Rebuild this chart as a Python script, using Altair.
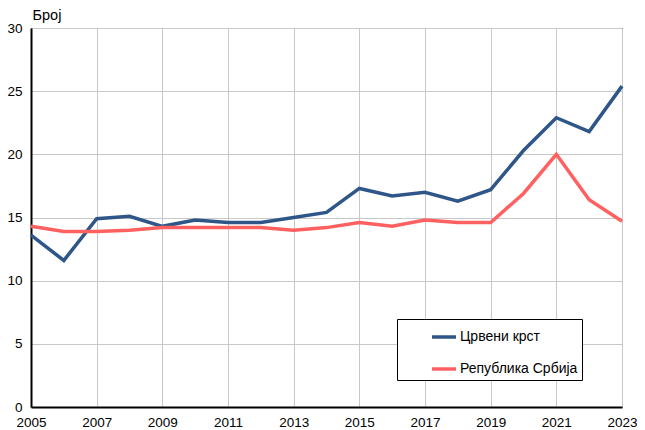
import altair as alt
import pandas as pd

years = list(range(2005, 2024))
crveni_krst = [13.6, 11.6, 14.9, 15.1, 14.3, 14.8, 14.6, 14.6, 15.0, 15.4,
               17.3, 16.7, 17.0, 16.3, 17.2, 20.3, 22.9, 21.8, 25.4]
republika = [14.3, 13.9, 13.9, 14.0, 14.2, 14.2, 14.2, 14.2, 14.0, 14.2,
             14.6, 14.3, 14.8, 14.6, 14.6, 16.9, 20.0, 16.4, 14.7]
series = ["Црвени крст", "Република Србија"]
colors = ["#2f5688", "#ff6060"]
x_ticks = list(range(2005, 2024, 2))
y_ticks = [0, 5, 10, 15, 20, 25, 30]

df = pd.DataFrame({
    "year": years * 2,
    "value": crveni_krst + republika,
    "series": [series[0]] * len(years) + [series[1]] * len(years),
})

FONT = "Liberation Sans"

chart = alt.Chart(df).mark_line(strokeWidth=3.5).encode(
    x=alt.X("year:Q",
            scale=alt.Scale(domain=[2005, 2023], nice=False, zero=False),
            axis=alt.Axis(values=x_ticks, format="d", title=None,
                          labelPadding=8, labelFlush=False)),
    y=alt.Y("value:Q",
            scale=alt.Scale(domain=[0, 30], nice=False),
            axis=alt.Axis(values=y_ticks, title="Број", titleAngle=0,
                          titleX=1, titleY=-9, titleAlign="left",
                          titleBaseline="alphabetic", titleFont=FONT,
                          titleFontSize=14.5, titleFontWeight="normal",
                          titleColor="black", labelPadding=9)),
    color=alt.Color("series:N",
                    scale=alt.Scale(domain=series, range=colors),
                    legend=alt.Legend(orient="none", legendX=366, legendY=291,
                                      direction="vertical", title=None,
                                      strokeColor="black", fillColor="white",
                                      padding=4, symbolType="stroke",
                                      symbolSize=576, symbolStrokeWidth=3.5,
                                      symbolOffset=29, labelOffset=2,
                                      rowPadding=11, labelFont=FONT,
                                      labelFontSize=14, labelColor="black",
                                      labelExpr="datum.label + '\u00a0\u00a0\u00a0\u00a0\u00a0\u00a0\u00a0'",
                                      cornerRadius=0)),
).properties(
    width=591,
    height=379,
    autosize=alt.AutoSizeParams(type="none"),
    padding={"left": 23, "top": 20, "right": 15, "bottom": 24},
).configure_axis(
    labelFont=FONT,
    labelFontSize=13.5,
    labelColor="black",
    ticks=False,
    domainColor="black",
    domainWidth=2,
    gridColor="#c8c8c8",
    gridWidth=1,
    gridOpacity=1,
).configure_view(
    stroke="black",
    strokeWidth=1,
)

chart.save("out.html", embed_options={"renderer": "svg", "actions": False})
